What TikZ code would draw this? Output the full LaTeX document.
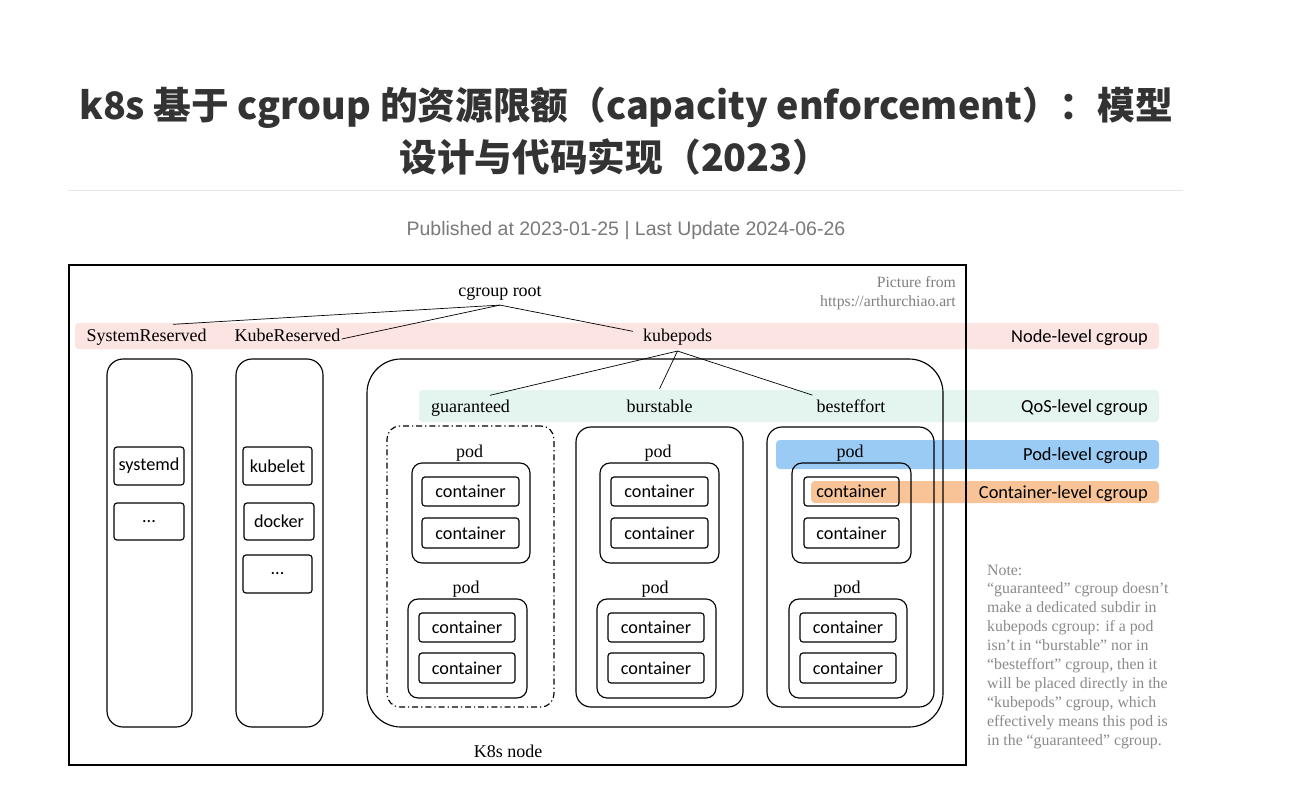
\documentclass[tikz,border=0pt]{standalone}
\usepackage{fontspec}
\usepackage{graphicx}
\usetikzlibrary{fit}
\setmainfont{Liberation Serif}
\newfontfamily\cjk{Noto Sans CJK SC}
\newfontfamily\carl{Carlito}
\newfontfamily\arialf{Liberation Sans}
\definecolor{pinkband}{HTML}{FCE4E2}
\definecolor{greenband}{HTML}{E3F5EE}
\definecolor{blueband}{HTML}{99CBF5}
\definecolor{orangeband}{HTML}{F8C497}
\definecolor{picgray}{HTML}{7F7F7F}
\definecolor{notegray}{HTML}{8A8A8A}
\definecolor{titlecol}{HTML}{333333}
\definecolor{pubgray}{HTML}{7A7A7A}
\definecolor{rulegray}{HTML}{E6E6E6}
\newcommand\boxfont{\carl\fontsize{18.2}{20}\selectfont}
\begin{document}
\begin{tikzpicture}[x=1pt,y=-1pt,
  lab/.style={font=\fontsize{18}{20}\selectfont, inner sep=0pt, anchor=base},
  box/.style={draw, line width=1.15pt, inner sep=0pt},
  cbox/.style={box, rounded corners=3pt},
  btext/.style={font=\boxfont, inner sep=0pt},
  podbox/.style={box, rounded corners=10pt},
  qosbox/.style={box, rounded corners=15pt},
  colbox/.style={box, rounded corners=16pt},
  tree/.style={line width=0.7pt},
  legend/.style={font=\carl\fontsize{18.4}{20}\selectfont, inner sep=0pt, anchor=base east},
  band/.style={rounded corners=4pt}
]
\useasboundingbox (0,0) rectangle (1297,806);
\fill[white] (0,0) rectangle (1297,806);

% ---------- header ----------
\node[font=\cjk\bfseries\fontsize{37.7}{44}\selectfont, text=titlecol, inner sep=0pt, anchor=base] (title1) at (626,119) {k8s 基于 cgroup 的资源限额（capacity enforcement）：模型};
\node[font=\cjk\bfseries\fontsize{37.7}{44}\selectfont, text=titlecol, inner sep=0pt, anchor=base] (title2) at (615,171) {设计与代码实现（2023）};
\draw[rulegray, line width=1pt] (68,190) -- (1183,190);
\node[font=\arialf\fontsize{19.5}{22}\selectfont, text=pubgray, inner sep=0pt, anchor=base] (pub) at (626,235) {Published at 2023-01-25 | Last Update 2024-06-26};

% ---------- bands ----------
\fill[pinkband, band] (75,323) rectangle (1159,349);
\fill[greenband, band] (419,390) rectangle (1159,422);
\fill[blueband, band] (776,440) rectangle (1159,469);
\fill[orangeband, band] (811,481) rectangle (1159,503);

% ---------- outer K8s node ----------
\node[box, line width=1.3pt, fit={(69,265) (966,765)}] (k8s) {};
\node[lab] (k8slab) at (508,757) {K8s node};
\node[lab, anchor=base east, text=picgray, font=\fontsize{15.7}{18}\selectfont] (pic1) at (956,287) {Picture from};
\node[lab, anchor=base east, text=picgray, font=\fontsize{15.7}{18}\selectfont] (pic2) at (956,306) {https://arthurchiao.art};

% ---------- node-level ----------
\node[lab] (root) at (500,296) {cgroup root};
\node[lab] (sysr) at (146.5,341) {SystemReserved};
\node[lab] (kuber) at (287.5,341) {KubeReserved};
\node[lab] (kp) at (677.5,341) {kubepods};
\draw[tree] ([yshift=-5pt]root.south) -- ([xshift=26.5pt,yshift=4pt]sysr.north);
\draw[tree] ([yshift=-5pt]root.south) -- ([xshift=1pt,yshift=2pt]kuber.base east);
\draw[tree] ([yshift=-5pt]root.south) -- ([xshift=-10pt,yshift=-3pt]kp.north west);

\node[legend] (lnode) at (1148,342) {Node-level cgroup};
\node[legend] (lqos) at (1148,412) {QoS-level cgroup};
\node[legend] (lpod) at (1148,460) {Pod-level cgroup};
\node[legend] (lcont) at (1148,498) {Container-level cgroup};

% ---------- reserved columns ----------
\node[colbox, fit={(107,359) (192,727)}] (syscol) {};
\node[colbox, fit={(236,359) (323,727)}] (kubecol) {};
\node[cbox, fit={(114,447) (184,485)}] (systemd) {};
\node[btext] (systemdt) at (systemd.center) {systemd};
\node[cbox, fit={(114,503) (184,540)}] (sysdots) {};
\node[btext] (sysdotst) at (sysdots.center) {...};
\node[cbox, fit={(243,447) (312,485)}] (kubelet) {};
\node[btext] (kubeletT) at (kubelet.center) {kubelet};
\node[cbox, fit={(244,503) (314,540)}] (docker) {};
\node[btext] (dockerT) at (docker.center) {docker};
\node[cbox, fit={(243,555) (312,593)}] (kubedots) {};
\node[btext] (kubedotsT) at (kubedots.center) {...};

% ---------- kubepods ----------
\node[box, rounded corners=34pt, fit={(367,359) (943,727)}] (kpbox) {};
\node[lab] (guar) at (470.5,412) {guaranteed};
\node[lab] (burs) at (659.5,412) {burstable};
\node[lab] (best) at (851,412) {besteffort};
\draw[tree] ([yshift=-6pt]kp.south) -- ([xshift=19.5pt,yshift=4pt]guar.north);
\draw[tree] ([yshift=-6pt]kp.south) -- ([yshift=10.5pt]burs.north);
\draw[tree] ([yshift=-6pt]kp.south) -- ([xshift=-4pt,yshift=4pt]best.north west);

% guaranteed
\node[box, rounded corners=13pt, dash pattern=on 6pt off 3pt on 1.2pt off 3pt, fit={(387,426) (554,707)}] (gbox) {};
\node[lab] (gp1l) at (469.5,457) {pod};
\node[podbox, fit={(412,463) (530,563)}] (gp1) {};
\node[cbox, fit={(422,477) (519,506)}] (gp1c1) {};
\node[btext] at (gp1c1.center) {container};
\node[cbox, fit={(422,518) (519,548)}] (gp1c2) {};
\node[btext] at (gp1c2.center) {container};
\node[lab] (gp2l) at (466,593) {pod};
\node[podbox, fit={(408,599) (527,698)}] (gp2) {};
\node[cbox, fit={(419,613) (515,642)}] (gp2c1) {};
\node[btext] at (gp2c1.center) {container};
\node[cbox, fit={(419,653) (515,683)}] (gp2c2) {};
\node[btext] at (gp2c2.center) {container};

% burstable
\node[qosbox, fit={(576,427) (743,707)}] (bbox) {};
\node[lab] (bp1l) at (658,457) {pod};
\node[podbox, fit={(600,463) (719,563)}] (bp1) {};
\node[cbox, fit={(611,477) (708,506)}] (bp1c1) {};
\node[btext] at (bp1c1.center) {container};
\node[cbox, fit={(611,518) (708,548)}] (bp1c2) {};
\node[btext] at (bp1c2.center) {container};
\node[lab] (bp2l) at (655,593) {pod};
\node[podbox, fit={(597,599) (716,698)}] (bp2) {};
\node[cbox, fit={(608,613) (704,642)}] (bp2c1) {};
\node[btext] at (bp2c1.center) {container};
\node[cbox, fit={(608,653) (704,683)}] (bp2c2) {};
\node[btext] at (bp2c2.center) {container};

% besteffort
\node[qosbox, fit={(767,427) (934,707)}] (ebox) {};
\node[lab] (ep1l) at (850,457) {pod};
\node[podbox, fit={(792,463) (911,563)}] (ep1) {};
\node[cbox, fit={(804,477) (899,506)}] (ep1c1) {};
\node[btext] at (ep1c1.center) {container};
\node[cbox, fit={(804,518) (899,548)}] (ep1c2) {};
\node[btext] at (ep1c2.center) {container};
\node[lab] (ep2l) at (847,593) {pod};
\node[podbox, fit={(789,599) (907,698)}] (ep2) {};
\node[cbox, fit={(800,613) (896,642)}] (ep2c1) {};
\node[btext] at (ep2c1.center) {container};
\node[cbox, fit={(800,653) (896,683)}] (ep2c2) {};
\node[btext] at (ep2c2.center) {container};

% ---------- note ----------
\node[anchor=north west, inner sep=0pt, align=left, text=notegray, font=\fontsize{15.8}{18.9}\selectfont] (note) at (987,564.5) {Note:\\“guaranteed” cgroup doesn’t\\make a dedicated subdir in\\kubepods cgroup: if a pod\\isn’t in “burstable” nor in\\“besteffort” cgroup, then it\\will be placed directly in the\\“kubepods” cgroup, which\\effectively means this pod is\\in the “guaranteed” cgroup.};
\end{tikzpicture}
\end{document}
